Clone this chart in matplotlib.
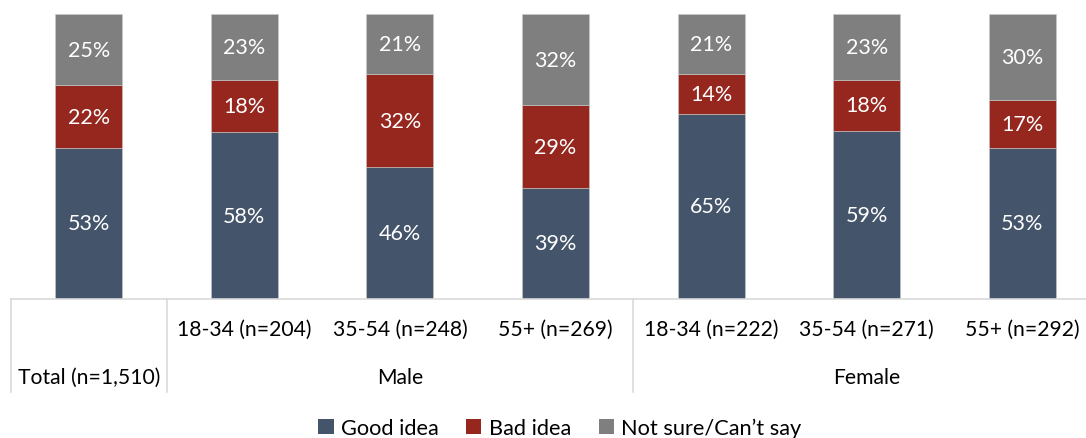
import matplotlib
matplotlib.use("Agg")
import matplotlib.pyplot as plt
from matplotlib.patches import Patch

plt.rcParams['font.family'] = ['Lato', 'DejaVu Sans']

sub_labels = ["", "18-34 (n=204)", "35-54 (n=248)", "55+ (n=269)",
              "18-34 (n=222)", "35-54 (n=271)", "55+ (n=292)"]
group_labels = ["Total (n=1,510)", "Male", "Female"]
group_spans = [(0, 0), (1, 3), (4, 6)]
good = [53, 58, 46, 39, 65, 59, 53]
bad = [22, 18, 32, 29, 14, 18, 17]
unsure = [25, 23, 21, 32, 21, 23, 30]
series_names = ["Good idea", "Bad idea", "Not sure/Can\u2019t say"]
colors = ["#44546A", "#95271F", "#7F7F7F"]

W, H = 1086, 439
fig = plt.figure(figsize=(W / 100, H / 100), dpi=100)
ax = fig.add_axes([11 / W, 1 - 300 / H, 1089 / W, 285 / H])

x = list(range(len(good)))
totals = [g + b + u for g, b, u in zip(good, bad, unsure)]
bottom = [0.0] * len(x)
for vals, col in zip([good, bad, unsure], colors):
    # 100% stacked: each segment is its share of the bar total
    shares = [v / t * 100 for v, t in zip(vals, totals)]
    ax.bar(x, shares, width=0.43, bottom=bottom, color=col,
           edgecolor="#C9C9C9", linewidth=0.4)
    for xi, b, s, v in zip(x, bottom, shares, vals):
        ax.text(xi, b + s / 2, f"{v}%", ha="center", va="center",
                color="white", fontsize=15.5)
    bottom = [b + s for b, s in zip(bottom, shares)]

ax.set_xlim(-0.5, len(x) - 0.5)
ax.set_ylim(0, 100)
ax.axis("off")

line_col = "#D9D9D9"
tr = ax.get_xaxis_transform()
ax.plot([-0.5, len(x) - 0.5], [0, 0], color=line_col, lw=1.2,
        transform=tr, clip_on=False)
sep_bottom = -(393 - 300) / 285
for xs in [-0.5, 0.5, 3.5]:
    ax.plot([xs, xs], [0, sep_bottom], color=line_col, lw=1.2,
            transform=tr, clip_on=False)

sub_y = -(330 - 300) / 285
grp_y = -(378 - 300) / 285
for xi, lab in zip(x, sub_labels):
    if lab:
        ax.text(xi, sub_y, lab, ha="center", va="center", fontsize=15.2,
                transform=tr, color="black")
for lab, (a, b) in zip(group_labels, group_spans):
    ax.text((a + b) / 2, grp_y, lab, ha="center", va="center", fontsize=15.2,
            transform=tr, color="black")

handles = [Patch(facecolor=c, edgecolor="none") for c in colors]
fig.legend(handles, series_names, loc="center", bbox_to_anchor=(560 / W, 1 - 429 / H),
           ncol=3, frameon=False, fontsize=15.7, handlelength=0.7, handleheight=0.7,
           handletextpad=0.35, columnspacing=1.25)

fig.savefig("out.png", dpi=100)
